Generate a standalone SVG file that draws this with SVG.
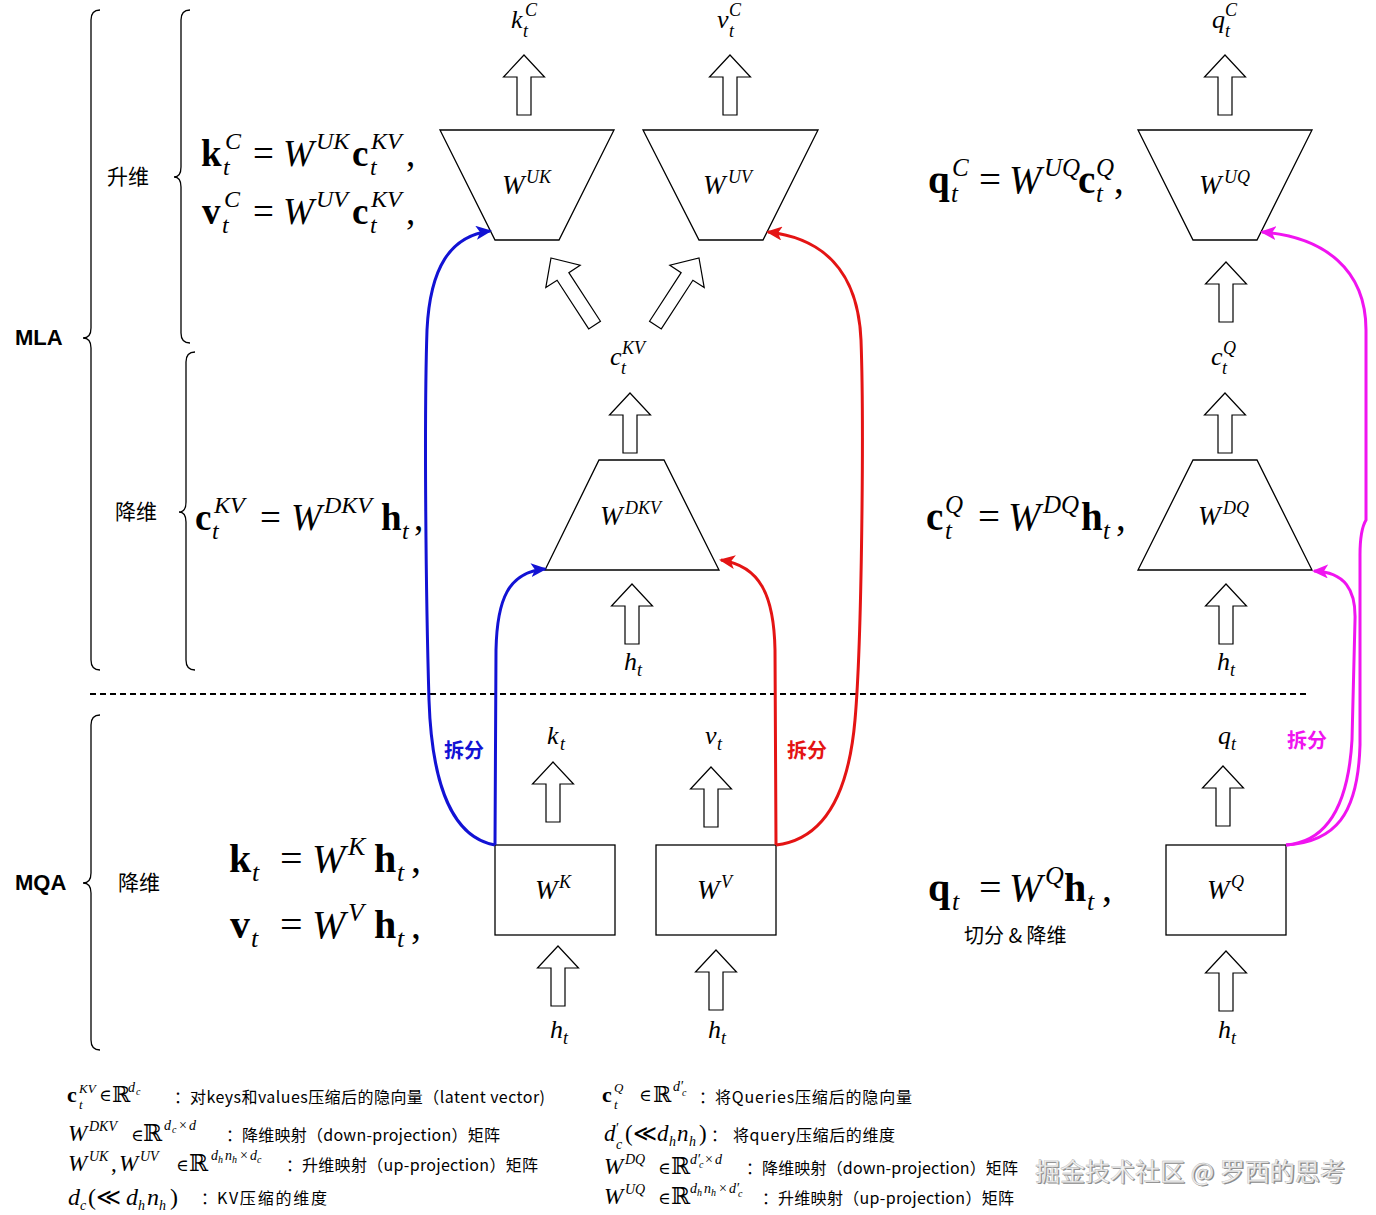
<svg xmlns="http://www.w3.org/2000/svg" xmlns:xlink="http://www.w3.org/1999/xlink" width="1376" height="1215" viewBox="0 0 1376 1215">
<style>
.m{font-family:"Liberation Serif","DejaVu Serif",serif;}
.i{font-style:italic;}
.b{font-weight:bold;}
.cn{font-family:"Noto Sans CJK SC","Noto Sans",sans-serif;}
.lab{font-family:"Liberation Sans",Arial,sans-serif;font-weight:bold;font-size:22px;}
.shape{fill:#fff;stroke:#000;stroke-width:1.3;}
.blk{fill:#fff;stroke:#000;stroke-width:1.2;}
.brace{fill:none;stroke:#000;stroke-width:1.3;}
.cb{fill:none;stroke:#1212d4;stroke-width:3;}
.cr{fill:none;stroke:#e41414;stroke-width:3;}
.cm{fill:none;stroke:#f014f0;stroke-width:3;}
.lg{font-size:16px;}
</style>
<defs>
<path id="ua" class="blk" d="M0 0 L20.5 22 L7 22 L7 60 L-7 60 L-7 22 L-20.5 22 Z"/>
<path id="ub" class="blk" d="M0 0 L20.5 22 L7 22 L7 80 L-7 80 L-7 22 L-20.5 22 Z"/>
<marker id="mb" viewBox="0 0 16 14" refX="14" refY="7" markerWidth="16" markerHeight="14" orient="auto" markerUnits="userSpaceOnUse"><path d="M0 0 L16 7 L0 14 L4 7 Z" fill="#1212d4"/></marker>
<marker id="mr" viewBox="0 0 16 14" refX="14" refY="7" markerWidth="16" markerHeight="14" orient="auto" markerUnits="userSpaceOnUse"><path d="M0 0 L16 7 L0 14 L4 7 Z" fill="#e41414"/></marker>
<marker id="mm" viewBox="0 0 16 14" refX="14" refY="7" markerWidth="16" markerHeight="14" orient="auto" markerUnits="userSpaceOnUse"><path d="M0 0 L16 7 L0 14 L4 7 Z" fill="#f014f0"/></marker>
</defs>
<rect width="1376" height="1215" fill="#fff"/>

<!-- braces and section labels -->
<g id="sections">
<path class="brace" d="M100 10 Q91 10 91 20 L91 328 Q91 338 83 338 Q91 338 91 348 L91 660 Q91 670 100 670"/>
<path class="brace" d="M190 10 Q181 10 181 20 L181 167 Q181 177 174 177 Q181 177 181 187 L181 333 Q181 343 190 343"/>
<path class="brace" d="M195 352 Q186 352 186 362 L186 502 Q186 512 179 512 Q186 512 186 522 L186 660 Q186 670 195 670"/>
<path class="brace" d="M100 715 Q91 715 91 725 L91 873 Q91 883 83 883 Q91 883 91 893 L91 1040 Q91 1050 100 1050"/>
<text class="lab" x="15" y="345">MLA</text>
<text class="lab" x="15" y="890">MQA</text>
<text class="cn" font-size="21" x="107" y="184">升维</text>
<text class="cn" font-size="21" x="115" y="519">降维</text>
<text class="cn" font-size="21" x="118" y="890">降维</text>
<line x1="90" y1="694" x2="1310" y2="694" stroke="#000" stroke-width="2" stroke-dasharray="6 4"/>
</g>

<!-- equations -->
<g id="equations" class="m">
<text font-size="37"><tspan class="b" x="201" y="166">k</tspan><tspan class="i" font-size="24" x="225" y="149">C</tspan><tspan class="i" font-size="24" x="223" y="175">t</tspan><tspan x="253" y="166">=</tspan><tspan class="i" x="283" y="166">W</tspan><tspan class="i" font-size="24" x="316" y="149">UK</tspan><tspan class="b" x="352" y="166">c</tspan><tspan class="i" font-size="24" x="371" y="149">KV</tspan><tspan class="i" font-size="24" x="370" y="175">t</tspan><tspan x="406" y="166">,</tspan></text>
<text font-size="37"><tspan class="b" x="202" y="224">v</tspan><tspan class="i" font-size="24" x="224" y="207">C</tspan><tspan class="i" font-size="24" x="222" y="233">t</tspan><tspan x="253" y="224">=</tspan><tspan class="i" x="283" y="224">W</tspan><tspan class="i" font-size="24" x="316" y="207">UV</tspan><tspan class="b" x="352" y="224">c</tspan><tspan class="i" font-size="24" x="371" y="207">KV</tspan><tspan class="i" font-size="24" x="370" y="233">t</tspan><tspan x="406" y="224">,</tspan></text>
<text font-size="37"><tspan class="b" x="195" y="530">c</tspan><tspan class="i" font-size="24" x="214" y="513">KV</tspan><tspan class="i" font-size="24" x="212" y="539">t</tspan><tspan x="260" y="530">=</tspan><tspan class="i" x="291" y="530">W</tspan><tspan class="i" font-size="24" x="324" y="513">DKV</tspan><tspan class="b" x="381" y="530">h</tspan><tspan class="i" font-size="24" x="402" y="539">t</tspan><tspan x="414" y="530">,</tspan></text>
<text font-size="39"><tspan class="b" x="928" y="193">q</tspan><tspan class="i" font-size="25" x="952" y="176">C</tspan><tspan class="i" font-size="25" x="951" y="202">t</tspan><tspan x="979" y="193">=</tspan><tspan class="i" x="1009" y="193">W</tspan><tspan class="i" font-size="25" x="1044" y="176">UQ</tspan><tspan class="b" x="1078" y="193">c</tspan><tspan class="i" font-size="25" x="1096" y="176">Q</tspan><tspan class="i" font-size="25" x="1096" y="202">t</tspan><tspan x="1114" y="193">,</tspan></text>
<text font-size="39"><tspan class="b" x="926" y="530">c</tspan><tspan class="i" font-size="25" x="945" y="513">Q</tspan><tspan class="i" font-size="25" x="945" y="539">t</tspan><tspan x="978" y="530">=</tspan><tspan class="i" x="1008" y="530">W</tspan><tspan class="i" font-size="25" x="1043" y="513">DQ</tspan><tspan class="b" x="1081" y="530">h</tspan><tspan class="i" font-size="25" x="1103" y="539">t</tspan><tspan x="1116" y="530">,</tspan></text>
<text font-size="40"><tspan class="b" x="229" y="872">k</tspan><tspan class="i" font-size="26" x="252" y="881">t</tspan><tspan x="280" y="872">=</tspan><tspan class="i" x="312" y="872">W</tspan><tspan class="i" font-size="26" x="348" y="855">K</tspan><tspan class="b" x="374" y="872">h</tspan><tspan class="i" font-size="26" x="397" y="881">t</tspan><tspan x="411" y="872">,</tspan></text>
<text font-size="40"><tspan class="b" x="230" y="938">v</tspan><tspan class="i" font-size="26" x="251" y="947">t</tspan><tspan x="280" y="938">=</tspan><tspan class="i" x="312" y="938">W</tspan><tspan class="i" font-size="26" x="348" y="921">V</tspan><tspan class="b" x="374" y="938">h</tspan><tspan class="i" font-size="26" x="397" y="947">t</tspan><tspan x="411" y="938">,</tspan></text>
<text font-size="40"><tspan class="b" x="928" y="901">q</tspan><tspan class="i" font-size="26" x="952" y="910">t</tspan><tspan x="979" y="901">=</tspan><tspan class="i" x="1009" y="901">W</tspan><tspan class="i" font-size="26" x="1045" y="884">Q</tspan><tspan class="b" x="1064" y="901">h</tspan><tspan class="i" font-size="26" x="1087" y="910">t</tspan><tspan x="1102" y="901">,</tspan></text>
<text class="cn" font-size="20" x="964" y="943">切分 &amp; 降维</text>
</g>

<!-- nodes -->
<g id="node-WUK"><path class="shape" d="M440 130 L614 130 L559 240 L495 240 Z"/><text class="m i" font-size="27"><tspan x="502" y="194">W</tspan><tspan font-size="18" x="526" y="183">UK</tspan></text></g>
<g id="node-WUV"><path class="shape" d="M643 130 L818 130 L763 240 L699 240 Z"/><text class="m i" font-size="27"><tspan x="703" y="194">W</tspan><tspan font-size="18" x="728" y="183">UV</tspan></text></g>
<g id="node-WUQ"><path class="shape" d="M1138 130 L1312 130 L1257 240 L1193 240 Z"/><text class="m i" font-size="27"><tspan x="1199" y="194">W</tspan><tspan font-size="18" x="1224" y="183">UQ</tspan></text></g>
<g id="node-WDKV"><path class="shape" d="M599 460 L664 460 L719 570 L545 570 Z"/><text class="m i" font-size="27"><tspan x="600" y="525">W</tspan><tspan font-size="18" x="625" y="514">DKV</tspan></text></g>
<g id="node-WDQ"><path class="shape" d="M1193 460 L1257 460 L1312 570 L1138 570 Z"/><text class="m i" font-size="27"><tspan x="1198" y="525">W</tspan><tspan font-size="18" x="1223" y="514">DQ</tspan></text></g>
<g id="node-WK"><rect class="shape" x="495" y="845" width="120" height="90"/><text class="m i" font-size="27"><tspan x="535" y="899">W</tspan><tspan font-size="18" x="559" y="888">K</tspan></text></g>
<g id="node-WV"><rect class="shape" x="656" y="845" width="120" height="90"/><text class="m i" font-size="27"><tspan x="697" y="899">W</tspan><tspan font-size="18" x="721" y="888">V</tspan></text></g>
<g id="node-WQ"><rect class="shape" x="1166" y="845" width="120" height="90"/><text class="m i" font-size="27"><tspan x="1207" y="899">W</tspan><tspan font-size="18" x="1231" y="888">Q</tspan></text></g>

<!-- variable labels -->
<g id="labels" class="m i">
<text font-size="26"><tspan x="511" y="28">k</tspan><tspan font-size="18" x="525" y="16">C</tspan><tspan font-size="18" x="523" y="37">t</tspan></text>
<text font-size="26"><tspan x="717" y="28">v</tspan><tspan font-size="18" x="729" y="16">C</tspan><tspan font-size="18" x="729" y="37">t</tspan></text>
<text font-size="26"><tspan x="1212" y="28">q</tspan><tspan font-size="18" x="1225" y="16">C</tspan><tspan font-size="18" x="1225" y="37">t</tspan></text>
<text font-size="26"><tspan x="610" y="365">c</tspan><tspan font-size="18" x="622" y="354">KV</tspan><tspan font-size="18" x="621" y="374">t</tspan></text>
<text font-size="26"><tspan x="1211" y="365">c</tspan><tspan font-size="18" x="1223" y="354">Q</tspan><tspan font-size="18" x="1222" y="374">t</tspan></text>
<text font-size="26"><tspan x="624" y="670">h</tspan><tspan font-size="18" x="637" y="676">t</tspan></text>
<text font-size="26"><tspan x="1217" y="670">h</tspan><tspan font-size="18" x="1230" y="676">t</tspan></text>
<text font-size="26"><tspan x="547" y="744">k</tspan><tspan font-size="18" x="560" y="750">t</tspan></text>
<text font-size="26"><tspan x="705" y="744">v</tspan><tspan font-size="18" x="717" y="750">t</tspan></text>
<text font-size="26"><tspan x="1218" y="744">q</tspan><tspan font-size="18" x="1231" y="750">t</tspan></text>
<text font-size="26"><tspan x="550" y="1038">h</tspan><tspan font-size="18" x="563" y="1044">t</tspan></text>
<text font-size="26"><tspan x="708" y="1038">h</tspan><tspan font-size="18" x="721" y="1044">t</tspan></text>
<text font-size="26"><tspan x="1218" y="1038">h</tspan><tspan font-size="18" x="1231" y="1044">t</tspan></text>
</g>

<!-- connectors -->
<g id="connectors">
<use href="#ua" x="524" y="55"/>
<use href="#ua" x="730" y="55"/>
<use href="#ua" x="1225" y="55"/>
<use href="#ub" transform="translate(551 258) rotate(-33)"/>
<use href="#ub" transform="translate(699 258) rotate(33)"/>
<use href="#ua" x="1226" y="262"/>
<use href="#ua" x="630" y="393"/>
<use href="#ua" x="1225" y="393"/>
<use href="#ua" x="632" y="584"/>
<use href="#ua" x="1226" y="584"/>
<use href="#ua" x="553" y="762"/>
<use href="#ua" x="711" y="767"/>
<use href="#ua" x="1223" y="766"/>
<use href="#ua" x="558" y="946"/>
<use href="#ua" x="716" y="950"/>
<use href="#ua" x="1226" y="951"/>
<path class="cb" marker-end="url(#mb)" d="M495 845 C455 838 432 790 429 700 C426 600 424 420 427 330 C430 268 450 236 490 231"/>
<path class="cb" marker-end="url(#mb)" d="M495 845 L496 650 C497 600 508 572 545 569"/>
<path class="cr" marker-end="url(#mr)" d="M776 845 L775 650 C774 595 760 566 721 560"/>
<path class="cr" marker-end="url(#mr)" d="M776 845 C820 840 848 800 855 720 C862 640 864 420 861 340 C858 270 822 238 768 232"/>
<path class="cm" marker-end="url(#mm)" d="M1286 845 C1325 842 1348 810 1352 740 L1355 620 C1356 590 1345 572 1314 571"/>
<path class="cm" marker-end="url(#mm)" d="M1286 845 C1335 842 1358 815 1360 745 L1360 555 Q1360 530 1366 520 L1366 330 C1366 270 1325 237 1262 232"/>
<text class="cn b" font-size="20" fill="#1212d4" x="444" y="758">拆分</text>
<text class="cn b" font-size="20" fill="#e41414" x="787" y="758">拆分</text>
<text class="cn b" font-size="20" fill="#f014f0" x="1287" y="748">拆分</text>
</g>

<!-- legend -->
<g id="legend">
<text class="m" font-size="22"><tspan class="b" x="67" y="1102">c</tspan><tspan class="i" font-size="13" x="79" y="1093">KV</tspan><tspan class="i" font-size="13" x="79" y="1109">t</tspan><tspan font-size="17" x="99" y="1101">∈</tspan><tspan x="112" y="1102">ℝ</tspan><tspan class="i" font-size="14" x="128" y="1092">d</tspan><tspan class="i" font-size="10" x="136" y="1095">c</tspan></text>
<text class="cn lg"><tspan x="174" y="1103">：</tspan><tspan x="190" y="1103" textLength="355" lengthAdjust="spacing">对keys和values压缩后的隐向量（latent vector)</tspan></text>

<text class="m" font-size="23"><tspan class="i" x="68" y="1141">W</tspan><tspan class="i" font-size="14" x="89" y="1131">DKV</tspan><tspan font-size="17" x="131" y="1141">∈</tspan><tspan x="143" y="1141">ℝ</tspan><tspan class="i" font-size="14" x="164" y="1130">d</tspan><tspan class="i" font-size="10" x="172" y="1133">c</tspan><tspan font-size="14" x="179" y="1130">×</tspan><tspan class="i" font-size="14" x="189" y="1130">d</tspan></text>
<text class="cn lg"><tspan x="226" y="1141">：</tspan><tspan x="242" y="1141" textLength="258" lengthAdjust="spacing">降维映射（down-projection）矩阵</tspan></text>

<text class="m" font-size="23"><tspan class="i" x="68" y="1171">W</tspan><tspan class="i" font-size="14" x="89" y="1161">UK</tspan><tspan x="111" y="1171">,</tspan><tspan class="i" x="119" y="1171">W</tspan><tspan class="i" font-size="14" x="140" y="1161">UV</tspan><tspan font-size="17" x="176" y="1171">∈</tspan><tspan x="189" y="1171">ℝ</tspan><tspan class="i" font-size="14" x="211" y="1160">d</tspan><tspan class="i" font-size="10" x="218" y="1163">h</tspan><tspan class="i" font-size="14" x="225" y="1160">n</tspan><tspan class="i" font-size="10" x="232" y="1163">h</tspan><tspan font-size="14" x="240" y="1160">×</tspan><tspan class="i" font-size="14" x="250" y="1160">d</tspan><tspan class="i" font-size="10" x="257" y="1163">c</tspan></text>
<text class="cn lg"><tspan x="286" y="1171">：</tspan><tspan x="302" y="1171" textLength="236" lengthAdjust="spacing">升维映射（up-projection）矩阵</tspan></text>

<text class="m" font-size="24"><tspan class="i" x="68" y="1205">d</tspan><tspan class="i" font-size="14" x="80" y="1210">c</tspan><tspan x="88" y="1205">(≪</tspan><tspan class="i" x="126" y="1205">d</tspan><tspan class="i" font-size="14" x="138" y="1210">h</tspan><tspan class="i" x="147" y="1205">n</tspan><tspan class="i" font-size="14" x="159" y="1210">h</tspan><tspan x="170" y="1205">)</tspan></text>
<text class="cn lg"><tspan x="201" y="1204">：</tspan><tspan x="217" y="1204" textLength="110" lengthAdjust="spacing">KV压缩的维度</tspan></text>

<text class="m" font-size="22"><tspan class="b" x="602" y="1102">c</tspan><tspan class="i" font-size="13" x="614" y="1092">Q</tspan><tspan class="i" font-size="13" x="614" y="1109">t</tspan><tspan font-size="17" x="639" y="1101">∈</tspan><tspan x="653" y="1102">ℝ</tspan><tspan class="i" font-size="14" x="673" y="1091">d′</tspan><tspan class="i" font-size="10" x="682" y="1096">c</tspan></text>
<text class="cn lg"><tspan x="699" y="1103">：</tspan><tspan x="715" y="1103" textLength="197" lengthAdjust="spacing">将Queries压缩后的隐向量</tspan></text>

<text class="m" font-size="23"><tspan class="i" x="604" y="1141">d</tspan><tspan font-size="14" x="616" y="1133">′</tspan><tspan class="i" font-size="14" x="616" y="1149">c</tspan><tspan x="625" y="1141">(≪</tspan><tspan class="i" x="657" y="1141">d</tspan><tspan class="i" font-size="14" x="669" y="1146">h</tspan><tspan class="i" x="677" y="1141">n</tspan><tspan class="i" font-size="14" x="689" y="1146">h</tspan><tspan x="699" y="1141">)</tspan></text>
<text class="cn lg"><tspan x="711" y="1141">：</tspan><tspan x="733" y="1141" textLength="162" lengthAdjust="spacing">将query压缩后的维度</tspan></text>

<text class="m" font-size="23"><tspan class="i" x="604" y="1174">W</tspan><tspan class="i" font-size="14" x="625" y="1164">DQ</tspan><tspan font-size="17" x="658" y="1174">∈</tspan><tspan x="671" y="1174">ℝ</tspan><tspan class="i" font-size="14" x="690" y="1164">d′</tspan><tspan class="i" font-size="10" x="699" y="1168">c</tspan><tspan font-size="14" x="705" y="1164">×</tspan><tspan class="i" font-size="14" x="715" y="1164">d</tspan></text>
<text class="cn lg"><tspan x="746" y="1174">：</tspan><tspan x="762" y="1174" textLength="256" lengthAdjust="spacing">降维映射（down-projection）矩阵</tspan></text>

<text class="m" font-size="23"><tspan class="i" x="604" y="1204">W</tspan><tspan class="i" font-size="14" x="625" y="1194">UQ</tspan><tspan font-size="17" x="658" y="1204">∈</tspan><tspan x="671" y="1204">ℝ</tspan><tspan class="i" font-size="14" x="690" y="1193">d</tspan><tspan class="i" font-size="10" x="697" y="1196">h</tspan><tspan class="i" font-size="14" x="704" y="1193">n</tspan><tspan class="i" font-size="10" x="711" y="1196">h</tspan><tspan font-size="14" x="719" y="1193">×</tspan><tspan class="i" font-size="14" x="729" y="1193">d′</tspan><tspan class="i" font-size="10" x="738" y="1197">c</tspan></text>
<text class="cn lg"><tspan x="762" y="1204">：</tspan><tspan x="778" y="1204" textLength="236" lengthAdjust="spacing">升维映射（up-projection）矩阵</tspan></text>
</g>

<g id="watermark">
<text class="cn" font-size="25" x="1036.3" y="1182.3" fill="#8a8a8a">掘金技术社区 @ 罗西的思考</text>
<text class="cn" font-size="25" x="1035" y="1181" fill="#f2f2f2" stroke="#b0b0b0" stroke-width="0.4">掘金技术社区 @ 罗西的思考</text>
</g>
</svg>
